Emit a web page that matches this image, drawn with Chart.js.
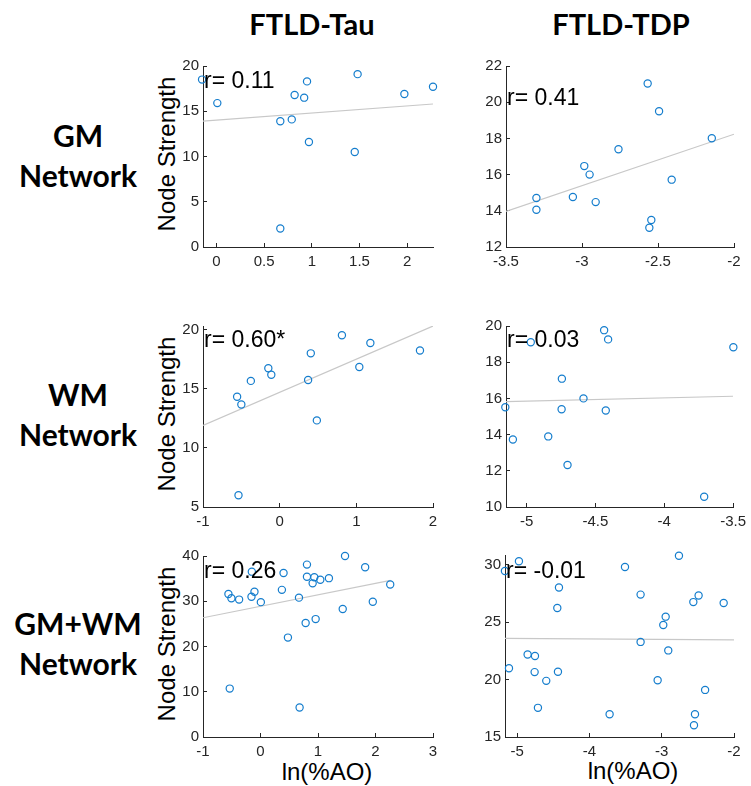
<!DOCTYPE html>
<html>
<head>
<meta charset="utf-8">
<script src="https://cdn.jsdelivr.net/npm/chart.js@4.4.1/dist/chart.umd.min.js"></script>
<style>
  body { margin: 0; background: #fff; width: 751px; height: 786px; position: relative; overflow: hidden; }
  canvas { position: absolute; }
  .lbl { position: absolute; white-space: nowrap; transform: translate(-50%, -50%); color: #000; }
  .head { font: bold 29px Lato, sans-serif; }
  .row { font: bold 30px Lato, sans-serif; text-align: center; line-height: 40px; }
  .ytitle { font: 24px "Liberation Sans", Arial, sans-serif; transform: translate(-50%, -50%) rotate(-90deg); }
  .xtitle { font: 24px "Liberation Sans", Arial, sans-serif; }
</style>
</head>
<body>
<div class="lbl head" style="left:312px;top:23px">FTLD-Tau</div>
<div class="lbl head" style="left:621px;top:23px">FTLD-TDP</div>

<div class="lbl row" style="left:78px;top:155px">GM<br>Network</div>
<div class="lbl row" style="left:78px;top:414px">WM<br>Network</div>
<div class="lbl row" style="left:78px;top:643px">GM+WM<br>Network</div>

<div class="lbl ytitle" style="left:167px;top:154px">Node Strength</div>
<div class="lbl ytitle" style="left:167px;top:414px">Node Strength</div>
<div class="lbl ytitle" style="left:167px;top:644px">Node Strength</div>

<div class="lbl xtitle" style="left:327px;top:772px">ln(%AO)</div>
<div class="lbl xtitle" style="left:633px;top:771px">ln(%AO)</div>

<canvas id="c1"></canvas>
<canvas id="c2"></canvas>
<canvas id="c3"></canvas>
<canvas id="c4"></canvas>
<canvas id="c5"></canvas>
<canvas id="c6"></canvas>

<script>
// GM network, FTLD-Tau
const tauGmX = [-0.15, 0.01, 0.67, 0.67, 0.79, 0.82, 0.92, 0.95, 0.97, 1.45, 1.48, 1.97, 2.27];
const tauGmY = [18.5, 15.9, 13.9, 2.05, 14.1, 16.8, 16.5, 18.3, 11.6, 10.5, 19.1, 16.9, 17.7];
const tauGmFitX = [-0.14, 2.27];
const tauGmFitY = [13.9, 15.8];

// GM network, FTLD-TDP
const tdpGmX = [-3.30, -3.30, -3.06, -2.985, -2.95, -2.91, -2.76, -2.568, -2.493, -2.544, -2.557, -2.41, -2.146];
const tdpGmY = [14.71, 14.06, 14.76, 16.47, 16.0, 14.48, 17.4, 21.03, 19.5, 13.49, 13.06, 15.72, 18.01];
const tdpGmFitX = [-3.5, -2];
const tdpGmFitY = [13.97, 18.23];

// WM network, FTLD-Tau
const tauWmX = [-0.555, -0.50, -0.537, -0.376, -0.148, -0.109, 0.371, 0.406, 0.485, 0.812, 1.039, 1.183, 1.83];
const tauWmY = [14.32, 13.66, 5.99, 15.66, 16.73, 16.18, 15.74, 17.99, 12.32, 19.52, 16.84, 18.86, 18.23];
const tauWmFitX = [-1, 2];
const tauWmFitY = [11.9, 20.3];

// WM network, FTLD-TDP
const tdpWmX = [-5.155, -5.10, -4.97, -4.843, -4.744, -4.746, -4.703, -4.587, -4.437, -4.408, -4.425, -3.71, -3.498];
const tdpWmY = [15.51, 13.73, 19.1, 13.9, 17.09, 15.4, 12.32, 16.0, 19.77, 19.26, 15.33, 10.57, 18.83];
const tdpWmFitX = [-5.15, -3.5];
const tdpWmFitY = [15.82, 16.12];

// GM+WM network, FTLD-Tau
const tauAllX = [-0.558, -0.506, -0.372, -0.535, -0.151, -0.157, -0.105, 0.006, 0.401, 0.372, 0.477, 0.669, 0.680,
                 0.808, 0.808, 0.785, 0.936, 0.907, 1.04, 0.959, 1.19, 1.43, 1.47, 1.82, 1.953, 2.256];
const tauAllY = [31.6, 30.65, 30.37, 10.7, 36.54, 31.0, 32.09, 29.8, 36.25, 32.52, 21.97, 30.8, 6.53,
                 38.1, 35.4, 25.2, 35.3, 33.96, 34.75, 26.06, 35.1, 28.3, 40.0, 37.5, 29.9, 33.7];
const tauAllFitX = [-1, 2.26];
const tauAllFitY = [26.35, 34.6];

// GM+WM network, FTLD-TDP
const tdpAllX = [-5.171, -4.977, -5.115, -4.857, -4.755, -4.76, -4.599, -4.714, -4.446, -4.423, -4.437, -3.722, -3.509,
                 -3.293, -3.293, -3.057, -2.979, -2.946, -2.910, -2.762, -2.563, -2.490, -2.540, -2.554, -2.40, -2.143];
const tdpAllY = [29.46, 30.31, 20.99, 22.18, 22.06, 20.65, 19.89, 17.54, 26.24, 28.02, 20.68, 16.98, 29.8,
                 27.4, 23.28, 19.94, 24.75, 25.48, 22.54, 30.79, 26.75, 27.32, 16.98, 16.02, 19.1, 26.67];
const tdpAllFitX = [-5.17, -2];
const tdpAllFitY = [23.59, 23.45];

// tick labels
const tauGmXTicks = [0, 0.5, 1, 1.5, 2];
const tauGmYTicks = [0, 5, 10, 15, 20];
const tdpGmXTicks = [-3.5, -3, -2.5, -2];
const tdpGmYTicks = [12, 14, 16, 18, 20, 22];
const tauWmXTicks = [-1, 0, 1, 2];
const tauWmYTicks = [5, 10, 15, 20];
const tdpWmXTicks = [-5, -4.5, -4, -3.5];
const tdpWmYTicks = [10, 12, 14, 16, 18, 20];
const tauAllXTicks = [-1, 0, 1, 2, 3];
const tauAllYTicks = [0, 10, 20, 30, 40];
const tdpAllXTicks = [-5, -4, -3, -2];
const tdpAllYTicks = [15, 20, 25, 30];

// correlation labels
const rLabels = ["r= 0.11", "r= 0.41", "r= 0.60*", "r= 0.03", "r= 0.26", "r= -0.01"];
const rLabelY = [18.3, 20.17, 19.03, 19.19, 36.6, 29.4];

const axisColor = "#262626";
const markerColor = "rgb(20, 125, 205)";
const fitColor = "#c8c8c8";

const panels = [
    { id: "c1", left: 203, top: 61, w: 230, h: 186, x: tauGmX, y: tauGmY, fx: tauGmFitX, fy: tauGmFitY,
      xr: [-0.14, 2.27], yr: [0, 20], xt: tauGmXTicks, yt: tauGmYTicks },
    { id: "c2", left: 506, top: 61, w: 228, h: 186, x: tdpGmX, y: tdpGmY, fx: tdpGmFitX, fy: tdpGmFitY,
      xr: [-3.5, -2], yr: [12, 22], xt: tdpGmXTicks, yt: tdpGmYTicks },
    { id: "c3", left: 203, top: 321, w: 230, h: 186, x: tauWmX, y: tauWmY, fx: tauWmFitX, fy: tauWmFitY,
      xr: [-1, 2], yr: [5, 20.3], xt: tauWmXTicks, yt: tauWmYTicks },
    { id: "c4", left: 506, top: 321, w: 228, h: 186, x: tdpWmX, y: tdpWmY, fx: tdpWmFitX, fy: tdpWmFitY,
      xr: [-5.15, -3.5], yr: [10, 20], xt: tdpWmXTicks, yt: tdpWmYTicks },
    { id: "c5", left: 203, top: 551, w: 230, h: 186, x: tauAllX, y: tauAllY, fx: tauAllFitX, fy: tauAllFitY,
      xr: [-1, 3], yr: [0, 40], xt: tauAllXTicks, yt: tauAllYTicks },
    { id: "c6", left: 505, top: 550, w: 229, h: 187, x: tdpAllX, y: tdpAllY, fx: tdpAllFitX, fy: tdpAllFitY,
      xr: [-5.17, -2], yr: [15, 30.85], xt: tdpAllXTicks, yt: tdpAllYTicks }
];

const padLeft = 45, padTop = 12, padRight = 22, padBottom = 30;

// r label drawn at the top-left of each plot
const rLabelPlugin = {
    id: "rLabel",
    afterDatasetsDraw(chart, args, opts) {
        const ctx = chart.ctx;
        const yPix = chart.scales.y.getPixelForValue(opts.y);
        ctx.save();
        ctx.font = '23px "Liberation Sans", Arial, sans-serif';
        ctx.fillStyle = "#000";
        ctx.textAlign = "left";
        ctx.textBaseline = "middle";
        ctx.fillText(opts.text, chart.chartArea.left + 1, yPix);
        ctx.restore();
    }
};

function makeChart(p, i) {
    const canvas = document.getElementById(p.id);
    const cw = p.w + padLeft + padRight;
    const ch = p.h + padTop + padBottom;
    canvas.width = cw;
    canvas.height = ch;
    canvas.style.left = (p.left - padLeft) + "px";
    canvas.style.top = (p.top - padTop) + "px";
    canvas.style.width = cw + "px";
    canvas.style.height = ch + "px";

    const points = p.x.map((v, k) => ({ x: v, y: p.y[k] }));
    const fit = p.fx.map((v, k) => ({ x: v, y: p.fy[k] }));
    const tickFont = { family: '"Liberation Sans", Arial, sans-serif', size: 15 };

    new Chart(canvas.getContext("2d"), {
        type: "scatter",
        data: {
            datasets: [
                {
                    data: points,
                    pointStyle: "circle",
                    pointRadius: 3.6,
                    pointBorderWidth: 1.2,
                    borderColor: markerColor,
                    backgroundColor: "rgba(0,0,0,0)",
                    clip: false,
                    order: 1
                },
                {
                    type: "line",
                    data: fit,
                    borderColor: fitColor,
                    borderWidth: 1.2,
                    pointRadius: 0,
                    fill: false,
                    order: 2
                }
            ]
        },
        options: {
            responsive: false,
            animation: false,
            events: [],
            layout: { padding: { left: 0, top: padTop, right: padRight, bottom: 0 } },
            plugins: {
                legend: { display: false },
                tooltip: { enabled: false },
                rLabel: { text: rLabels[i], y: rLabelY[i] }
            },
            scales: {
                x: {
                    type: "linear",
                    min: p.xr[0],
                    max: p.xr[1],
                    afterBuildTicks: s => { s.ticks = p.xt.map(v => ({ value: v })); },
                    afterFit: s => { s.height = padBottom; },
                    ticks: { color: axisColor, font: tickFont, padding: 10, maxRotation: 0, autoSkip: false,
                             callback: v => String(v) },
                    grid: { display: true, drawOnChartArea: false, drawTicks: true, tickLength: -4,
                            color: axisColor, tickColor: axisColor },
                    border: { display: true, color: axisColor, width: 1 }
                },
                y: {
                    type: "linear",
                    min: p.yr[0],
                    max: p.yr[1],
                    afterBuildTicks: s => { s.ticks = p.yt.map(v => ({ value: v })); },
                    afterFit: s => { s.width = padLeft; },
                    ticks: { color: axisColor, font: tickFont, padding: 8, autoSkip: false,
                             callback: v => String(v) },
                    grid: { display: true, drawOnChartArea: false, drawTicks: true, tickLength: -4,
                            color: axisColor, tickColor: axisColor },
                    border: { display: true, color: axisColor, width: 1 }
                }
            }
        },
        plugins: [rLabelPlugin]
    });
}

panels.forEach(makeChart);
</script>
</body>
</html>
